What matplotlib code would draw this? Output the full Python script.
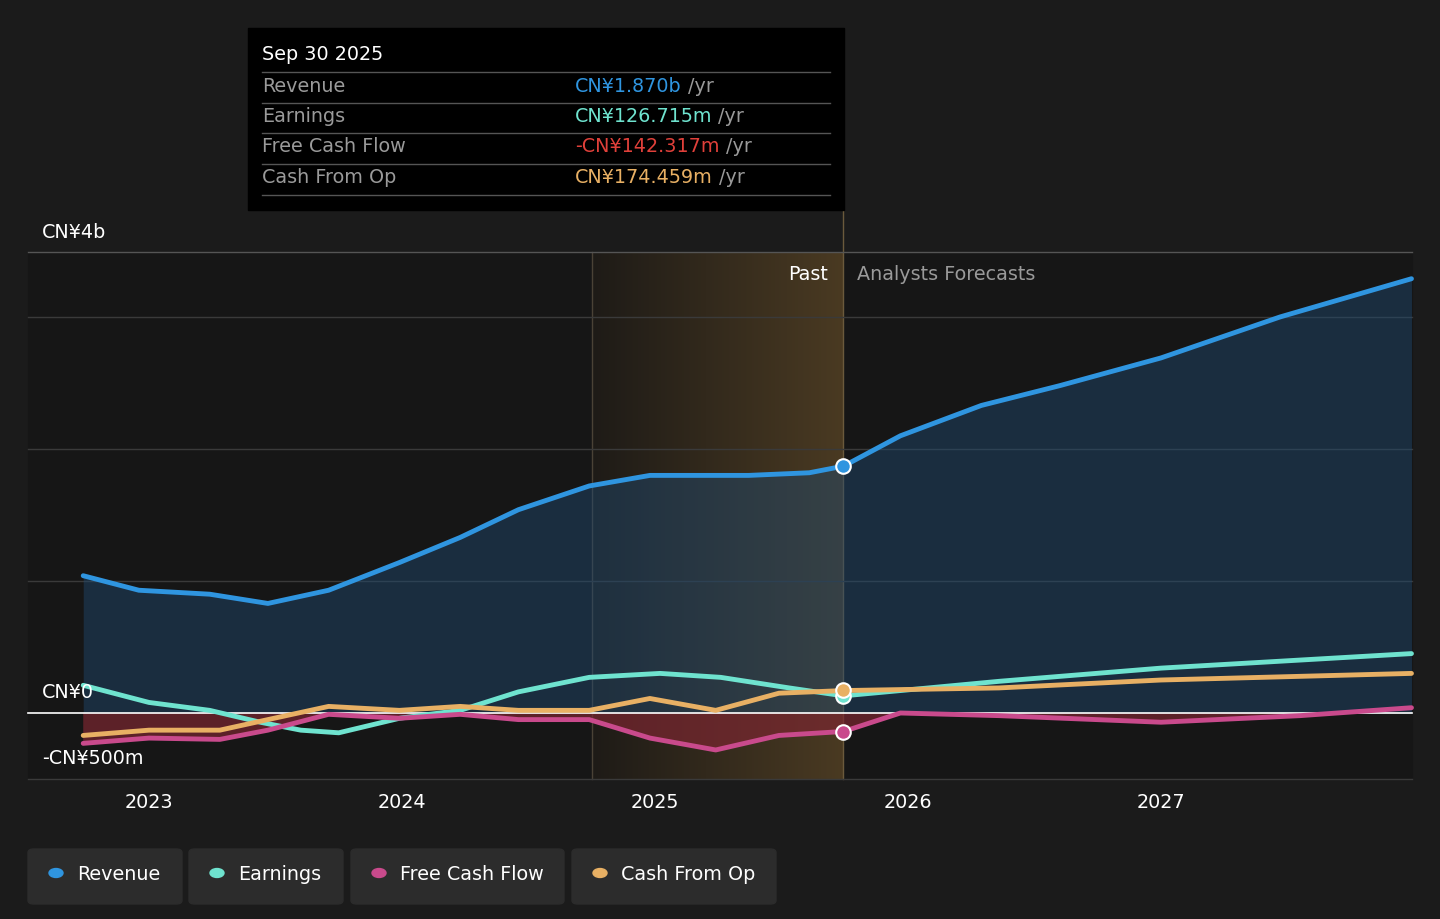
import matplotlib.pyplot as plt
import numpy as np
from matplotlib.patches import FancyBboxPatch, Rectangle
from matplotlib.colors import LinearSegmentedColormap

W, H = 1440, 919
BG = "#1b1b1b"
FS = 13.8

# values in CN¥ billions, x in decimal years
rev_x = [2022.74, 2022.96, 2023.24, 2023.47, 2023.71, 2023.99, 2024.23, 2024.46, 2024.74, 2024.98, 2025.37, 2025.61, 2025.745, 2025.97, 2026.29, 2026.60, 2027.00, 2027.47, 2027.99]
rev_y = [1.04, 0.93, 0.90, 0.83, 0.93, 1.14, 1.33, 1.54, 1.72, 1.80, 1.80, 1.82, 1.87, 2.10, 2.33, 2.48, 2.69, 3.00, 3.29]
earn_x = [2022.74, 2023.00, 2023.24, 2023.44, 2023.60, 2023.75, 2023.99, 2024.23, 2024.46, 2024.74, 2025.02, 2025.26, 2025.53, 2025.745, 2025.97, 2026.36, 2027.00, 2027.99]
earn_y = [0.21, 0.08, 0.02, -0.07, -0.13, -0.15, -0.04, 0.02, 0.16, 0.27, 0.30, 0.27, 0.19, 0.13, 0.17, 0.24, 0.34, 0.45]
fcf_x = [2022.74, 2023.00, 2023.28, 2023.47, 2023.71, 2023.99, 2024.23, 2024.46, 2024.74, 2024.98, 2025.24, 2025.49, 2025.745, 2025.97, 2026.36, 2027.00, 2027.55, 2027.99]
fcf_y = [-0.23, -0.19, -0.20, -0.13, -0.01, -0.04, -0.01, -0.05, -0.05, -0.19, -0.28, -0.17, -0.14, 0.0, -0.02, -0.07, -0.02, 0.04]
cfo_x = [2022.74, 2023.00, 2023.28, 2023.47, 2023.71, 2023.99, 2024.23, 2024.46, 2024.74, 2024.98, 2025.24, 2025.49, 2025.745, 2026.36, 2027.00, 2027.99]
cfo_y = [-0.17, -0.13, -0.13, -0.05, 0.05, 0.02, 0.05, 0.02, 0.02, 0.11, 0.02, 0.15, 0.17, 0.19, 0.25, 0.30]

C_REV, C_EARN, C_FCF, C_CFO = "#2f95e0", "#6fe3cf", "#c94a8c", "#e8b064"
PAST_START, PAST_END = 2024.75, 2025.745

fig = plt.figure(figsize=(W / 100, H / 100), dpi=100, facecolor=BG)
ax = fig.add_axes([0, 0, 1, 1])
ax.set_facecolor(BG)
ax.set_xlim(2023 - 149 / 253, 2023 + (W - 149) / 253)
ax.set_ylim(-(H - 713) / 132, 713 / 132)
ax.axis("off")

def px(x):
    return 2023 + (x - 149) / 253

ax.add_patch(Rectangle((px(28), -0.5), px(1412) - px(28), 3.99, color="#161616", zorder=0))
grad = np.linspace(0, 1, 256).reshape(1, -1)
cm = LinearSegmentedColormap.from_list("p", ["#1e1b17", "#4a3a22"])
ax.imshow(grad, cmap=cm, extent=[PAST_START, PAST_END, -0.5, 3.49], aspect="auto", zorder=0.5)
ax.plot([PAST_START, PAST_START], [-0.5, 3.49], color="#4a4236", lw=1, zorder=0.6)
ax.plot([PAST_END, PAST_END], [-0.5, 3.82], color="#6b5a3c", lw=1, zorder=0.6)

for yv in [-0.5, 1, 2, 3, 3.49]:
    ax.plot([px(28), px(1412)], [yv, yv], color="#3a3a3a" if yv != 3.49 else "#555555", lw=1, zorder=1)
ax.plot([px(28), px(1412)], [0, 0], color="white", lw=1.2, zorder=4)

ax.fill_between(rev_x, rev_y, 0, color="#1f4a72", alpha=0.45, zorder=1.5, lw=0)
ax.fill_between(fcf_x, fcf_y, 0, where=np.array(fcf_y) < 0, color="#7a2630", alpha=0.7, zorder=1.6, lw=0, interpolate=True)

for xs, ys, c in [(rev_x, rev_y, C_REV), (earn_x, earn_y, C_EARN), (fcf_x, fcf_y, C_FCF), (cfo_x, cfo_y, C_CFO)]:
    ax.plot(xs, ys, color=c, lw=3.5, zorder=5, solid_capstyle="round", solid_joinstyle="round")

for v, c in [(1.87, C_REV), (0.127, C_EARN), (-0.142, C_FCF), (0.174, C_CFO)]:
    ax.scatter([PAST_END], [v], s=110, color=c, edgecolor="white", lw=1.5, zorder=6)

def t(x, y, s, **kw):
    return fig.text(x / W, 1 - y / H, s, va="center", fontsize=FS, **kw)

t(42, 232, "CN¥4b", color="white")
t(42, 692, "CN¥0", color="white")
t(42, 758, "-CN¥500m", color="white")
for yr in [2023, 2024, 2025, 2026, 2027]:
    t(149 + (yr - 2023) * 253, 802, str(yr), color="white", ha="center")
t(828, 274, "Past", color="white", ha="right")
t(857, 274, "Analysts Forecasts", color="#9a9a9a")

# tooltip
fig.patches.append(Rectangle((248 / W, 1 - 210 / H), 596 / W, 182 / H, transform=fig.transFigure, color="black", zorder=10))
t(262, 55, "Sep 30 2025", color="white", zorder=11)
rows = [("Revenue", "CN¥1.870b", C_REV), ("Earnings", "CN¥126.715m", C_EARN),
        ("Free Cash Flow", "-CN¥142.317m", "#e0403a"), ("Cash From Op", "CN¥174.459m", C_CFO)]
for i, (lab, val, c) in enumerate(rows):
    y = 86 + i * 30.5
    fig.lines.append(plt.Line2D([262 / W, 830 / W], [1 - (y - 14) / H] * 2, color="#555555", lw=1, transform=fig.transFigure, zorder=11))
    t(262, y, lab, color="#9a9a9a", zorder=11)
    txt = t(575, y, val, color=c, zorder=11)
    fig.canvas.draw()
    bb = txt.get_window_extent()
    fig.text((bb.x1 + 6) / W, 1 - y / H, "/yr", color="#9a9a9a", fontsize=FS, va="center", zorder=11)
fig.lines.append(plt.Line2D([262 / W, 830 / W], [1 - 195 / H] * 2, color="#555555", lw=1, transform=fig.transFigure, zorder=11))

# legend buttons
for lab, c, xl, w in [("Revenue", C_REV, 28, 154), ("Earnings", C_EARN, 189, 154), ("Free Cash Flow", C_FCF, 351, 213), ("Cash From Op", C_CFO, 572, 204)]:
    fig.patches.append(FancyBboxPatch((xl / W, 1 - 904 / H), w / W, 55 / H, boxstyle="round,pad=0,rounding_size=0.004",
                                      transform=fig.transFigure, color="#2c2c2c", zorder=10))
    fig.patches.append(plt.Circle(((xl + 28) / W, 1 - 873 / H), 7 / W, color=c, transform=fig.transFigure, zorder=11))
    t(xl + 49, 874, lab, color="white", zorder=12)

fig.savefig("out.png", dpi=100, facecolor=BG)
